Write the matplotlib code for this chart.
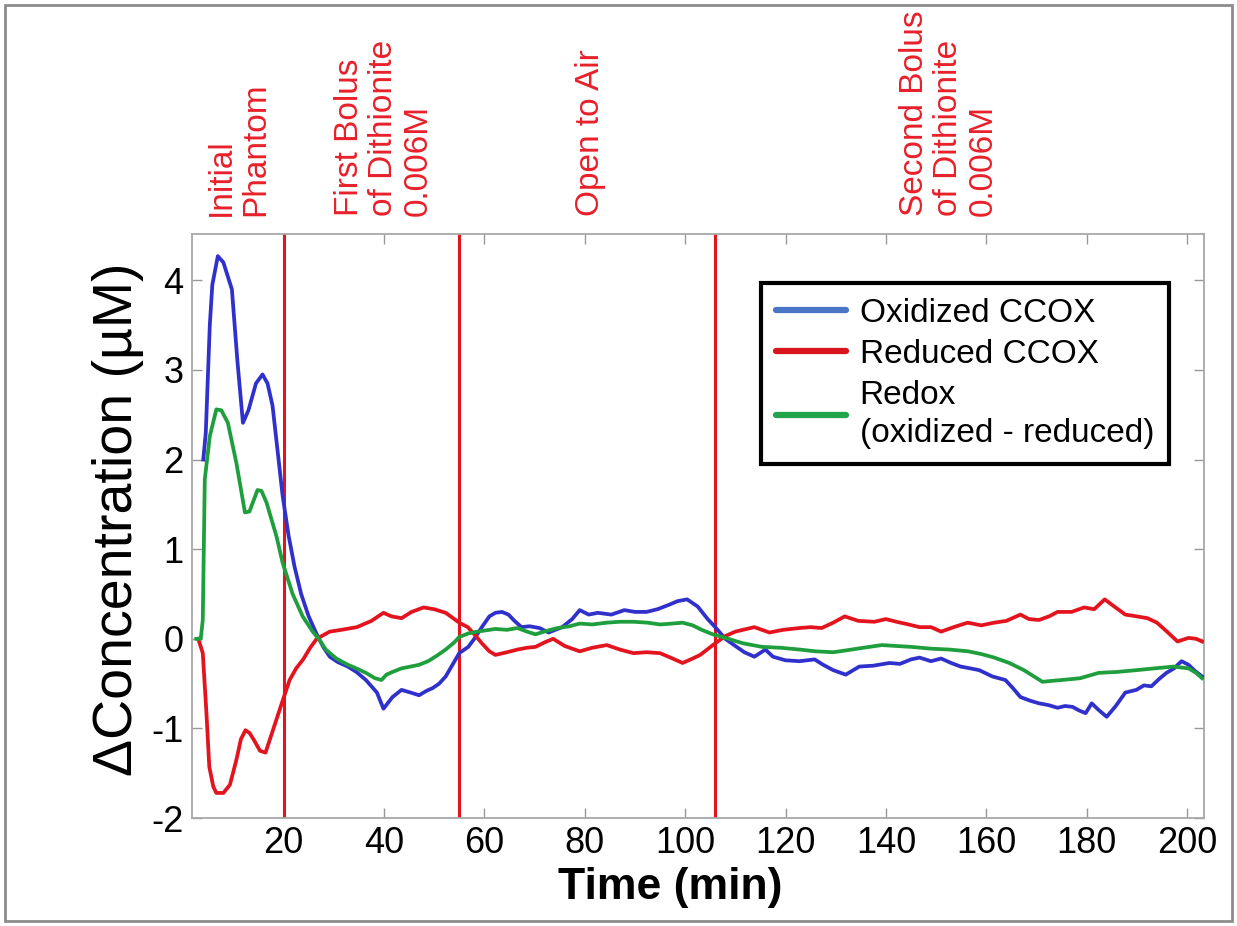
import matplotlib
matplotlib.use("Agg")
import matplotlib.pyplot as plt
from matplotlib.lines import Line2D
from matplotlib.patches import Rectangle

plt.rcParams['font.family'] = ['Liberation Sans', 'DejaVu Sans']
plt.rcParams['axes.unicode_minus'] = False

# values (time in min, delta concentration in uM)
ox_t = [4.0, 4.5, 5.3, 5.8, 6.9, 8.0, 9.7, 10.8, 11.9, 13.0, 14.5, 15.8, 16.8, 17.8, 19.8,
        21.0, 22.2, 23.5, 25.0, 26.6, 28.0, 29.2, 30.8, 32.8, 34.5, 36.4, 38.6, 39.9, 41.7,
        43.5, 45.3, 47.0, 48.5, 49.7, 51.0, 52.3, 55.0, 56.8, 58.0, 59.5, 61.0, 62.2, 63.5,
        64.8, 66.0, 67.4, 69.0, 71.0, 72.8, 75.5, 77.5, 79.0, 80.8, 82.6, 85.3, 87.9, 90.0,
        92.3, 94.5, 96.8, 98.5, 100.4, 102.5, 104.5, 106.0, 108.0, 110.0, 111.8, 113.8,
        116.0, 117.5, 120.0, 122.8, 125.8, 127.5, 129.5, 132.0, 134.7, 137.5, 140.7, 142.8,
        145.0, 146.7, 149.0, 151.0, 153.0, 154.9, 156.8, 158.6, 161.2, 163.8, 165.3, 166.8,
        168.7, 170.5, 172.4, 174.2, 175.7, 177.2, 178.5, 179.8, 181.0, 182.5, 184.0, 185.8,
        187.7, 189.9, 191.4, 192.9, 194.4, 195.9, 197.4, 198.9, 200.3, 201.6, 203.0]
ox_v = [2.0, 2.3, 3.5, 3.95, 4.27, 4.2, 3.9, 3.1, 2.41, 2.55, 2.85, 2.95, 2.85, 2.6, 1.6,
        1.15, 0.8, 0.5, 0.25, 0.05, -0.1, -0.2, -0.26, -0.31, -0.37, -0.46, -0.6, -0.78, -0.65,
        -0.57, -0.6, -0.63, -0.58, -0.55, -0.5, -0.42, -0.16, -0.09, 0.0, 0.13, 0.25, 0.29, 0.3,
        0.27, 0.2, 0.13, 0.14, 0.12, 0.07, 0.13, 0.22, 0.32, 0.27, 0.29, 0.27, 0.32, 0.3,
        0.3, 0.33, 0.38, 0.42, 0.44, 0.36, 0.22, 0.13, 0.0, -0.08, -0.15, -0.2,
        -0.12, -0.2, -0.24, -0.25, -0.23, -0.29, -0.35, -0.4, -0.31, -0.3, -0.27, -0.28,
        -0.23, -0.21, -0.25, -0.22, -0.27, -0.31, -0.33, -0.35, -0.42, -0.46, -0.55, -0.65,
        -0.69, -0.72, -0.74, -0.77, -0.75, -0.76, -0.8, -0.83, -0.72, -0.8, -0.87, -0.75,
        -0.6, -0.57, -0.52, -0.53, -0.45, -0.38, -0.33, -0.25, -0.29, -0.36, -0.42]

red_t = [3.0, 3.9, 4.6, 5.2, 6.0, 6.6, 8.0, 9.3, 10.6, 11.5, 12.4, 13.2, 14.1, 15.3, 16.4,
         17.7, 19.4, 21.2, 22.5, 23.9, 25.3, 26.6, 29.2, 31.5, 34.6, 37.5, 39.9, 41.5, 43.5,
         45.5, 47.9, 50.0, 52.3, 55.0, 56.7, 58.0, 59.5, 61.0, 62.2, 64.5, 66.6, 68.5, 70.2,
         72.0, 73.7, 76.0, 79.0, 81.5, 84.4, 87.0, 89.7, 92.3, 95.0, 97.5, 99.5, 101.5, 103.0,
         106.0, 108.0, 110.0, 113.8, 116.8, 119.5, 122.8, 125.0, 127.2, 129.5, 131.8, 134.5,
         137.7, 140.0, 142.1, 144.5, 146.7, 149.0, 151.0, 153.5, 156.3, 159.0, 161.6, 164.0,
         166.8, 168.5, 170.5, 172.5, 174.2, 177.0, 179.5, 181.5, 183.6, 185.5, 187.7, 190.0,
         192.1, 194.0, 196.0, 198.1, 200.3, 201.8, 203.0]
red_v = [0.0, -0.16, -0.8, -1.43, -1.65, -1.72, -1.72, -1.63, -1.35, -1.12, -1.02, -1.05,
         -1.13, -1.25, -1.27, -1.05, -0.76, -0.46, -0.33, -0.23, -0.1, 0.0, 0.08, 0.1, 0.13,
         0.2, 0.29, 0.25, 0.23, 0.3, 0.35, 0.33, 0.29, 0.18, 0.13, 0.05, -0.05, -0.14, -0.18,
         -0.15, -0.12, -0.1, -0.09, -0.04, 0.0, -0.08, -0.14, -0.1, -0.07, -0.12, -0.16, -0.15,
         -0.16, -0.22, -0.27, -0.22, -0.18, -0.05, 0.03, 0.08, 0.13, 0.07, 0.1, 0.12, 0.13,
         0.12, 0.18, 0.25, 0.2, 0.19, 0.22, 0.19, 0.16, 0.13, 0.13, 0.08, 0.13, 0.18, 0.15,
         0.18, 0.2, 0.27, 0.22, 0.21, 0.25, 0.3, 0.3, 0.35, 0.33, 0.44, 0.36, 0.27, 0.25,
         0.23, 0.18, 0.08, -0.03, 0.01, 0.0, -0.03]

redox_t = [2.6, 3.5, 3.9, 4.3, 5.3, 6.6, 7.6, 8.9, 10.6, 12.3, 13.2, 14.8, 15.6, 16.6, 18.6,
           19.8, 21.8, 23.8, 25.8, 27.0, 28.4, 30.5, 32.8, 34.5, 36.4, 38.2, 39.5, 40.5, 41.7,
           43.5, 45.3, 47.0, 48.8, 50.5, 52.3, 54.0, 55.0, 56.8, 58.6, 62.2, 64.5, 66.6, 68.5,
           70.2, 72.5, 74.6, 77.0, 79.0, 81.5, 84.4, 87.0, 89.7, 92.5, 95.0, 97.5, 99.5, 101.5,
           103.3, 105.5, 108.0, 111.5, 115.3, 119.0, 122.8, 126.0, 129.5, 132.0, 135.5, 139.2,
           142.0, 145.0, 149.0, 152.6, 156.4, 159.0, 161.6, 164.6, 167.5, 169.5, 171.2, 173.0,
           175.0, 178.7, 182.4, 186.0, 189.9, 193.5, 197.3, 200.3, 201.8, 203.0]
redox_v = [0.0, 0.0, 0.21, 1.78, 2.26, 2.56, 2.55, 2.41, 1.96, 1.41, 1.42, 1.66, 1.65, 1.52,
           1.14, 0.85, 0.5, 0.25, 0.08, 0.0, -0.12, -0.22, -0.29, -0.33, -0.38, -0.44, -0.46,
           -0.4, -0.37, -0.33, -0.31, -0.29, -0.25, -0.19, -0.12, -0.04, 0.02, 0.06, 0.08, 0.11,
           0.1, 0.12, 0.08, 0.05, 0.09, 0.12, 0.14, 0.17, 0.16, 0.18, 0.19, 0.19, 0.18, 0.16,
           0.17, 0.18, 0.15, 0.1, 0.05, 0.01, -0.05, -0.09, -0.1, -0.12, -0.14, -0.15, -0.13,
           -0.1, -0.07, -0.08, -0.09, -0.11, -0.12, -0.14, -0.17, -0.21, -0.27, -0.35, -0.42,
           -0.48, -0.47, -0.46, -0.44, -0.38, -0.37, -0.35, -0.33, -0.31, -0.33, -0.38, -0.44]

event_times = [20, 55, 106]
event_labels = ["Initial\nPhantom", "First Bolus\nof Dithionite\n0.006M",
                "Open to Air", "Second Bolus\nof Dithionite\n0.006M"]
event_label_x = [11.1, 40.0, 81.2, 152.5]

series_names = ["Oxidized CCOX", "Reduced CCOX", "Redox\n(oxidized - reduced)"]
x_ticks = [20, 40, 60, 80, 100, 120, 140, 160, 180, 200]
y_ticks = [-2, -1, 0, 1, 2, 3, 4]

fig = plt.figure(figsize=(12.37, 9.26), dpi=100)
ax = fig.add_axes([0.155, 0.1166, 0.818, 0.631])

# outer gray frame of the picture
fig.patches.append(Rectangle((0.004, 0.005), 0.992, 0.99, transform=fig.transFigure,
                             fill=False, edgecolor='#8c8c8c', linewidth=2))

ax.plot(ox_t, ox_v, color='#3030cc', lw=2.7, zorder=3)
ax.plot(red_t, red_v, color='#e3141e', lw=2.7, zorder=3)
ax.plot(redox_t, redox_v, color='#1e9e3c', lw=2.7, zorder=3)

for t in event_times:
    ax.axvline(t, color='#e3141e', lw=2.2, zorder=2)

for lab, lx in zip(event_labels, event_label_x):
    ax.text(lx, 1.03, lab, transform=ax.get_xaxis_transform(), rotation=90,
            ha='center', va='bottom', multialignment='left', color='#e8202a',
            fontsize=24, linespacing=1.15, clip_on=False)

ax.set_xlim(1.7, 203.3)
ax.set_ylim(-2, 4.52)
ax.set_xticks(x_ticks)
ax.set_yticks(y_ticks)
ax.tick_params(direction='in', length=7, width=1, color='#999999', labelsize=26,
               top=True, right=True, pad=6)
for sp in ax.spines.values():
    sp.set_color('#a8a8a8')
    sp.set_linewidth(1.3)

ax.set_xlabel("Time (min)", fontsize=32, fontweight='bold')
ax.xaxis.set_label_coords(0.473, -0.083)
fig.text(118 / 1237, 1 - 519 / 926, "\u0394Concentration (\u00b5M)", rotation=90,
         ha='center', va='center', fontsize=40)

handles = [Line2D([], [], color='#4a74c6', lw=4.5, solid_capstyle='round'),
           Line2D([], [], color='#d9141c', lw=4.5, solid_capstyle='round'),
           Line2D([], [], color='#22a44a', lw=4.5, solid_capstyle='round')]
leg = ax.legend(handles, series_names, loc='upper right', bbox_to_anchor=(0.966, 0.916),
                borderaxespad=0, fontsize=24, fancybox=False, framealpha=1,
                handlelength=2.1, handletextpad=0.4, labelspacing=0.3, borderpad=0.45,
                prop={'size': 24})
for txt in leg.get_texts():
    txt.set_linespacing(1.3)
leg.get_frame().set_edgecolor('black')
leg.get_frame().set_linewidth(3)

fig.savefig("out.png", dpi=100)
